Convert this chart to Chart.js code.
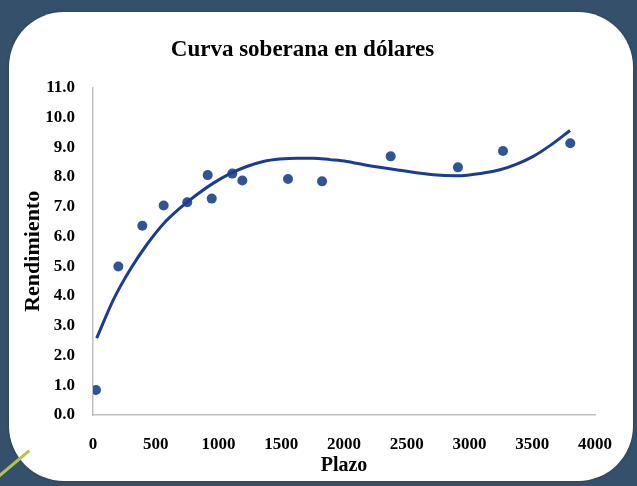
<!DOCTYPE html>
<html lang="es">
<head>
    <meta charset="UTF-8">
    <title>Curva soberana en dólares</title>
    <style>
        html, body { margin: 0; padding: 0; }
        body {
            width: 637px;
            height: 486px;
            background: #35506b;
            position: relative;
            overflow: hidden;
        }
        #card {
            position: absolute;
            left: 9px;
            top: 12px;
            width: 624px;
            height: 469px;
            background: #ffffff;
            border-radius: 55px;
            box-shadow: 0 0 3px rgba(0, 0, 0, 0.25);
        }
        #streak {
            position: absolute;
            left: -6px;
            top: 462px;
            width: 40px;
            height: 3px;
            background: #b8c24a;
            transform: rotate(-40deg);
        }
        #myChart {
            position: absolute;
            left: 0;
            top: 0;
        }
    </style>
</head>
<body>
    <div id="card"></div>
    <div id="streak"></div>
    <canvas id="myChart" width="637" height="486"></canvas>

    <script src="https://cdn.jsdelivr.net/npm/chart.js"></script>
    <script>
        // Bond data (plazo in days, rendimiento in %)
        const plazo = [24, 202, 393, 563, 751, 914, 946, 1110, 1190, 1554, 1825, 2372, 2908, 3267, 3803];
        const rendimiento = [0.84, 4.99, 6.36, 7.04, 7.15, 8.06, 7.27, 8.11, 7.88, 7.93, 7.85, 8.69, 8.32, 8.87, 9.13];

        // Trend line as drawn in the picture
        const trendX = [29, 162, 295, 428, 560, 693, 826, 959, 1092, 1225, 1357, 1490, 1623, 1755, 1888,
                        2022, 2181, 2446, 2712, 2898, 3110, 3243, 3376, 3508, 3641, 3801];
        const trendY = [2.58, 3.87, 4.88, 5.72, 6.42, 6.95, 7.40, 7.79, 8.11, 8.35, 8.52, 8.60, 8.63, 8.63, 8.58,
                        8.52, 8.39, 8.22, 8.07, 8.04, 8.13, 8.24, 8.43, 8.69, 9.05, 9.56];

        const serif = "'Liberation Serif', 'Times New Roman', serif";

        const points = plazo.map((x, i) => ({ x: x, y: rendimiento[i] }));
        const trend = trendX.map((x, i) => ({ x: x, y: trendY[i] }));

        const ctx = document.getElementById('myChart').getContext('2d');
        new Chart(ctx, {
            type: 'scatter',
            data: {
                datasets: [
                    {
                        // trend first so it is painted over the dots
                        label: 'Tendencia',
                        data: trend,
                        showLine: true,
                        borderColor: '#1b3d8f',
                        borderWidth: 3,
                        pointRadius: 0,
                        fill: false,
                        cubicInterpolationMode: 'monotone'
                    },
                    {
                        label: 'Rendimiento',
                        data: points,
                        backgroundColor: '#2f5597',
                        borderWidth: 0,
                        pointRadius: 5
                    }
                ]
            },
            options: {
                responsive: false,
                animation: false,
                devicePixelRatio: 1,
                layout: {
                    padding: { left: 10, right: 42, top: 0, bottom: 0 }
                },
                plugins: {
                    legend: { display: false },
                    tooltip: { enabled: false },
                    title: {
                        display: true,
                        text: 'Curva soberana en dólares',
                        color: '#000000',
                        font: { family: serif, size: 23, weight: 'bold' },
                        padding: { top: 36, bottom: 24 }
                    }
                },
                scales: {
                    x: {
                        type: 'linear',
                        min: 0,
                        max: 4000,
                        afterFit: (scale) => { scale.height = 71; },
                        ticks: {
                            stepSize: 500,
                            padding: 19,
                            color: '#000000',
                            font: { family: serif, size: 17, weight: 'bold' },
                            callback: (value) => String(value)
                        },
                        grid: { display: true, color: 'transparent', drawTicks: false },
                        border: { display: true, color: '#bfbfbf', width: 1.5 },
                        title: {
                            display: true,
                            text: 'Plazo',
                            color: '#000000',
                            font: { family: serif, size: 20, weight: 'bold' },
                            padding: { top: 0, bottom: 8 }
                        }
                    },
                    y: {
                        type: 'linear',
                        min: 0,
                        max: 11,
                        afterFit: (scale) => { scale.width = 83; },
                        ticks: {
                            stepSize: 1,
                            padding: 18,
                            color: '#000000',
                            font: { family: serif, size: 17, weight: 'bold' },
                            callback: (value) => value.toFixed(1)
                        },
                        grid: { display: true, color: 'transparent', drawTicks: false },
                        border: { display: true, color: '#bfbfbf', width: 1.5 },
                        title: {
                            display: true,
                            text: 'Rendimiento',
                            color: '#000000',
                            font: { family: serif, size: 22, weight: 'bold' },
                            padding: { top: 10, bottom: 0 }
                        }
                    }
                }
            }
        });
    </script>
</body>
</html>
